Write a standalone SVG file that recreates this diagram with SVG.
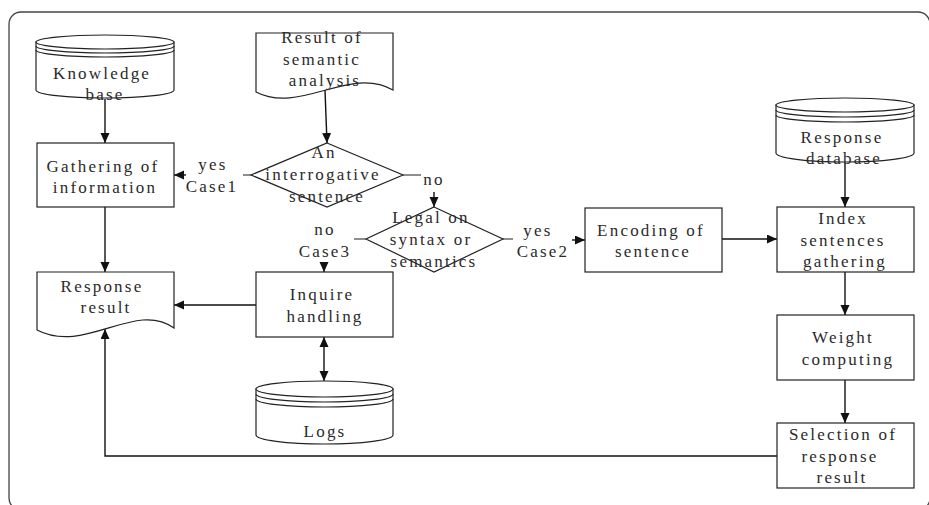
<svg xmlns="http://www.w3.org/2000/svg" width="929" height="505" viewBox="0 0 929 505">
  <style>
    .shape { fill: #fff; stroke: #222; stroke-width: 1.2; }
    .line { fill: none; stroke: #222; stroke-width: 1.2; }
    .conn { fill: none; stroke: #111; stroke-width: 1.4; }
    .stub { fill: none; stroke: #444; stroke-width: 1.2; }
    text { font-family: "Liberation Serif", "Times New Roman", serif; font-size: 17px; letter-spacing: 2.2px; fill: #2a2a2a; text-anchor: middle; }
  </style>
  <defs>
    <marker id="arrow" markerUnits="userSpaceOnUse" markerWidth="11" markerHeight="10" refX="10" refY="4.5" orient="auto">
      <path d="M0,0 L10,4.5 L0,9 Z" fill="#111"/>
    </marker>
    <marker id="arrowStart" markerUnits="userSpaceOnUse" markerWidth="11" markerHeight="10" refX="0" refY="4.5" orient="auto">
      <path d="M10,0 L0,4.5 L10,9 Z" fill="#111"/>
    </marker>
  </defs>

  <!-- outer frame -->
  <rect x="9" y="12" width="921" height="498" rx="12" ry="12" fill="none" stroke="#444" stroke-width="1.3"/>

  <!-- connectors -->
  <g id="connectors">
    <path class="conn" d="M105,99 V143" marker-end="url(#arrow)"/>
    <path class="conn" d="M105,207 V272" marker-end="url(#arrow)"/>
    <path class="conn" d="M325,90 L327,143" marker-end="url(#arrow)"/>
    <path class="stub" d="M251,175 H243"/>
    <path class="conn" d="M186,175 H174" marker-end="url(#arrow)"/>
    <path class="stub" d="M403,175 H421"/>
    <path class="conn" d="M434,192 V207" marker-end="url(#arrow)"/>
    <path class="stub" d="M366,239 H354"/>
    <path class="conn" d="M324,263 V272" marker-end="url(#arrow)"/>
    <path class="stub" d="M503,239 H513"/>
    <path class="conn" d="M572,240 H585" marker-end="url(#arrow)"/>
    <path class="conn" d="M722,239 H777" marker-end="url(#arrow)"/>
    <path class="conn" d="M845,163 V207" marker-end="url(#arrow)"/>
    <path class="conn" d="M845,272 V315" marker-end="url(#arrow)"/>
    <path class="conn" d="M845,380 V423" marker-end="url(#arrow)"/>
    <path class="conn" d="M256,305 H174" marker-end="url(#arrow)"/>
    <path class="conn" d="M324,337 V381" marker-start="url(#arrowStart)" marker-end="url(#arrow)"/>
    <path class="conn" d="M777,456 H105 V329" marker-end="url(#arrow)"/>
  </g>

  <!-- Knowledge base store -->
  <g id="knowledge-base">
    <path class="shape" d="M36,42 V90 A69,8 0 0 0 174,90 V42 Z"/>
    <ellipse class="shape" cx="105" cy="42" rx="69" ry="7"/>
    <path class="line" d="M36,46 A69,7 0 0 0 174,46"/>
    <path class="line" d="M36,50 A69,7 0 0 0 174,50"/>
    <text x="102" y="79">Knowledge</text>
    <text x="105" y="100">base</text>
  </g>

  <!-- Result of semantic analysis document -->
  <g id="semantic-result">
    <path class="shape" d="M256,33 H393 V90 C350,65 300,115 256,92 Z"/>
    <text x="322" y="43">Result of</text>
    <text x="322" y="65">semantic</text>
    <text x="325" y="86">analysis</text>
  </g>

  <!-- Gathering of information -->
  <g id="gathering">
    <rect class="shape" x="37" y="143" width="137" height="64"/>
    <text x="103" y="172">Gathering of</text>
    <text x="105" y="193">information</text>
  </g>

  <!-- Decision: interrogative sentence -->
  <g id="interrogative">
    <path class="shape" d="M327,143 L403,175 L327,207 L251,175 Z"/>
    <text x="324" y="158">An</text>
    <text x="323" y="180">interrogative</text>
    <text x="327" y="202">sentence</text>
  </g>

  <!-- Decision: legal on syntax or semantics -->
  <g id="legal">
    <path class="shape" d="M434,207 L503,239 L434,272 L366,239 Z"/>
    <text x="431" y="223">Legal on</text>
    <text x="431" y="245">syntax or</text>
    <text x="434" y="267">semantics</text>
  </g>

  <!-- Branch labels -->
  <g id="labels">
    <text x="213" y="170">yes</text>
    <text x="212" y="192">Case1</text>
    <text x="434" y="185">no</text>
    <text x="325" y="235">no</text>
    <text x="325" y="257">Case3</text>
    <text x="538" y="236">yes</text>
    <text x="543" y="257">Case2</text>
  </g>

  <!-- Response result document -->
  <g id="response-result">
    <path class="shape" d="M37,272 H174 V328 C135,300 85,355 37,330 Z"/>
    <text x="102" y="292">Response</text>
    <text x="106" y="313">result</text>
  </g>

  <!-- Inquire handling -->
  <g id="inquire">
    <rect class="shape" x="256" y="272" width="137" height="65"/>
    <text x="322" y="300">Inquire</text>
    <text x="325" y="322">handling</text>
  </g>

  <!-- Logs store -->
  <g id="logs">
    <path class="shape" d="M256,389 V435 A68.5,9 0 0 0 393,435 V389 Z"/>
    <ellipse class="shape" cx="324.5" cy="389" rx="68.5" ry="8"/>
    <path class="line" d="M256,394 A68.5,8 0 0 0 393,394"/>
    <path class="line" d="M256,399 A68.5,8 0 0 0 393,399"/>
    <text x="325" y="437">Logs</text>
  </g>

  <!-- Encoding of sentence -->
  <g id="encoding">
    <rect class="shape" x="585" y="208" width="137" height="64"/>
    <text x="651" y="236">Encoding of</text>
    <text x="653" y="257">sentence</text>
  </g>

  <!-- Response database store -->
  <g id="response-db">
    <path class="shape" d="M776,105 V153 A69,9 0 0 0 914,153 V105 Z"/>
    <ellipse class="shape" cx="845" cy="105" rx="69" ry="7"/>
    <path class="line" d="M776,110 A69,7 0 0 0 914,110"/>
    <path class="line" d="M776,115 A69,7 0 0 0 914,115"/>
    <text x="842" y="143">Response</text>
    <text x="844" y="164">database</text>
  </g>

  <!-- Index sentences gathering -->
  <g id="index">
    <rect class="shape" x="777" y="207" width="137" height="65"/>
    <text x="843" y="224">Index</text>
    <text x="843" y="246">sentences</text>
    <text x="845" y="267">gathering</text>
  </g>

  <!-- Weight computing -->
  <g id="weight">
    <rect class="shape" x="777" y="315" width="137" height="65"/>
    <text x="843" y="343">Weight</text>
    <text x="848" y="365">computing</text>
  </g>

  <!-- Selection of response result -->
  <g id="selection">
    <rect class="shape" x="777" y="423" width="137" height="65"/>
    <text x="843" y="440">Selection of</text>
    <text x="840" y="462">response</text>
    <text x="842" y="483">result</text>
  </g>
</svg>
